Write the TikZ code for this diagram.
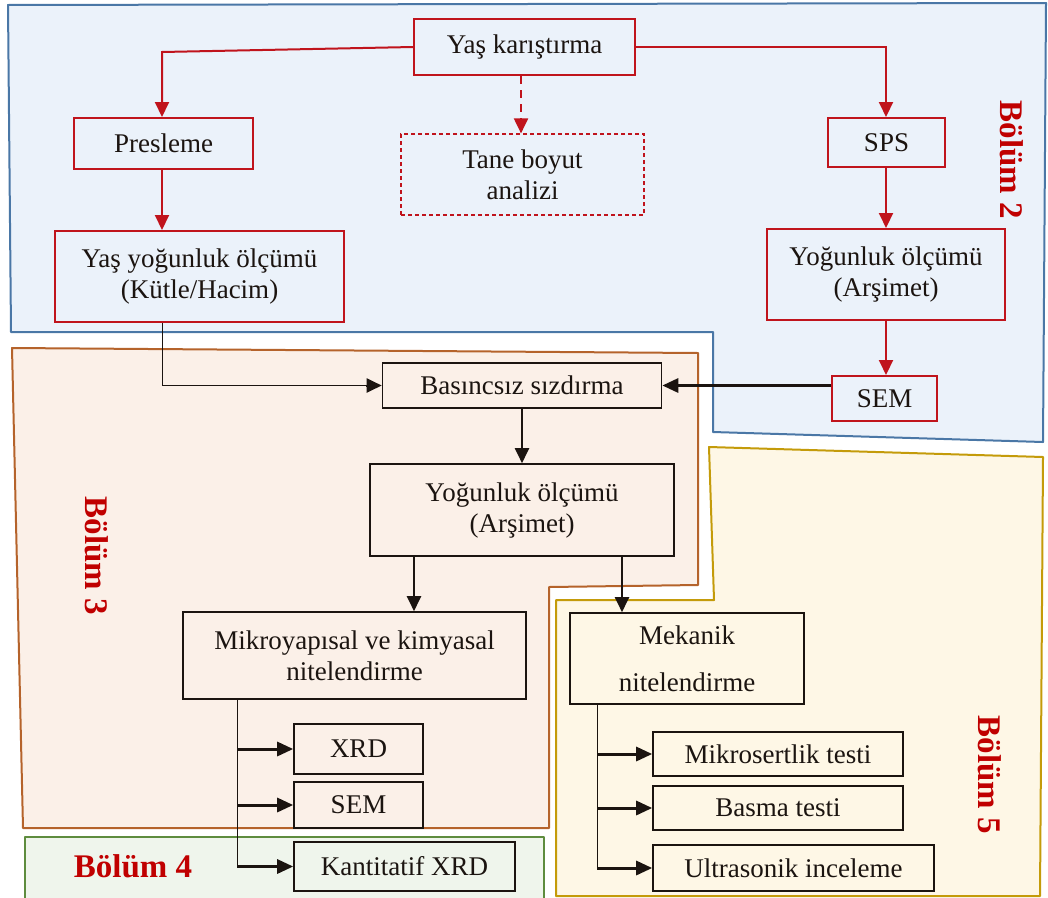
\documentclass[tikz,border=0pt]{standalone}
\usepackage{fontspec}
\setmainfont{Liberation Serif}
\usetikzlibrary{arrows.meta}
\definecolor{myred}{HTML}{C0141C}
\definecolor{lblred}{HTML}{C00000}
\definecolor{myblk}{HTML}{1B1410}
\definecolor{bluec}{HTML}{4A77A6}
\definecolor{bluef}{HTML}{EBF2FA}
\definecolor{orangec}{HTML}{B5632B}
\definecolor{orangef}{HTML}{FBF0E8}
\definecolor{yellowc}{HTML}{C49B0A}
\definecolor{yellowf}{HTML}{FEF7E6}
\definecolor{greenc}{HTML}{5E8C3E}
\definecolor{greenf}{HTML}{EFF5EC}
\newcommand\txtfont{\fontsize{27}{31}\selectfont}
\newcommand\lblfont{\fontsize{33}{36}\selectfont\bfseries}
\begin{document}
\begin{tikzpicture}[x=1pt,y=-1pt,
  rbox/.style={draw=myred,line width=2pt,inner sep=0pt,align=center,font=\txtfont,text=myblk},
  rdbox/.style={rbox,line width=1.2pt,dash pattern=on 4pt off 3pt},
  kbox/.style={draw=myblk,line width=1.6pt,inner sep=0pt,align=center,font=\txtfont,text=myblk},
  rarrow/.style={draw=myred,line width=2pt,-{Triangle[length=15pt,width=14pt]}},
  karrow/.style={draw=myblk,line width=2pt,-{Triangle[length=15pt,width=14pt]}},
  kthick/.style={draw=myblk,line width=3pt,-{Triangle[length=16pt,width=14pt]}},
  kthin/.style={draw=myblk,line width=1pt},
  region/.style={line width=2pt,line join=round},
  lbl/.style={font=\lblfont,text=lblred,inner sep=0pt}]
\useasboundingbox (0,0) rectangle (1048,897);

% regions
\draw[region,draw=bluec,fill=bluef] (8,5) -- (1046,3) -- (1043,442) -- (713,432) -- (713,332) -- (11,332) -- cycle;
\draw[region,draw=orangec,fill=orangef] (12,348) -- (698,353) -- (698,585) -- (549,587) -- (549,828) -- (23,828) -- cycle;
\draw[region,draw=yellowc,fill=yellowf] (556,600) -- (714,600) -- (709,447) -- (1043,457) -- (1040,896) -- (556,896) -- cycle;
\draw[region,draw=greenc,fill=greenf] (25,899) -- (25,837) -- (544,837) -- (544,899);

% region labels
\node[lbl,rotate=-90] (b2) at (1012,160) {Bölüm 2};
\node[lbl,rotate=-90] (b3) at (97,556) {Bölüm 3};
\node[lbl] (b4) at (133,866) {Bölüm 4};
\node[lbl,rotate=-90] (b5) at (990,775) {Bölüm 5};

% boxes - Bolum 2
\node[rbox,minimum width=221pt,minimum height=56pt] (yas) at (524.5,47) {Yaş karıştırma};
\node[rbox,minimum width=179pt,minimum height=51pt] (pres) at (163.5,143.5) {Presleme};
\node[rdbox,minimum width=243pt,minimum height=81pt] (tane) at (522.5,174.5) {Tane boyut\\analizi};
\node[rbox,minimum width=117pt,minimum height=49pt] (sps) at (886.5,142.5) {SPS};
\node[rbox,minimum width=289pt,minimum height=91pt] (yasy) at (199.5,276.5) {Yaş yoğunluk ölçümü\\(Kütle/Hacim)};
\node[rbox,minimum width=238pt,minimum height=91pt] (yog1) at (886,274.5) {Yoğunluk ölçümü\\(Arşimet)};
\node[rbox,minimum width=105pt,minimum height=45pt] (sem1) at (884.5,398.5) {SEM};

% boxes - Bolum 3
\node[kbox,minimum width=279pt,minimum height=45pt] (bas) at (522,385.5) {Basıncsız sızdırma};
\node[kbox,minimum width=304pt,minimum height=92pt] (yog2) at (522,510) {Yoğunluk ölçümü\\(Arşimet)};
\node[kbox,minimum width=343pt,minimum height=87pt] (mikro) at (354.5,655.5) {Mikroyapısal ve kimyasal\\nitelendirme};
\node[kbox,minimum width=129pt,minimum height=50pt] (xrd) at (358.5,749) {XRD};
\node[kbox,minimum width=129pt,minimum height=46pt] (sem2) at (358.5,805) {SEM};
\node[kbox,minimum width=221pt,minimum height=49pt] (kxrd) at (404.5,866.5) {Kantitatif XRD};

% boxes - Bolum 5
\node[kbox,minimum width=234pt,minimum height=91pt] (mek) at (687,658.5) {Mekanik\\[16pt]nitelendirme};
\node[kbox,minimum width=250pt,minimum height=44pt] (mikros) at (778,754) {Mikrosertlik testi};
\node[kbox,minimum width=250pt,minimum height=44pt] (basma) at (778,808) {Basma testi};
\node[kbox,minimum width=281pt,minimum height=46pt] (ultra) at (793.5,868) {Ultrasonik inceleme};

% helper coordinates
\coordinate (lp) at (162,52);
\coordinate (rp) at (886,47);
\coordinate (dx) at (521,0);
\coordinate (mx) at (414,0);
\coordinate (nx) at (622,0);
\coordinate (bx) at (237,0);
\coordinate (cx) at (597,0);

% red connectors
\draw[rarrow] (yas.west) -- (lp) -- (lp |- pres.north);
\draw[rarrow] (yas.east) -- (rp) -- (rp |- sps.north);
\draw[rarrow,dash pattern=on 8pt off 6pt] (yas.south -| dx) -- (tane.north -| dx);
\draw[rarrow] (pres.south -| lp) -- (yasy.north -| lp);
\draw[rarrow] (sps.south -| rp) -- (yog1.north -| rp);
\draw[rarrow] (yog1.south -| rp) -- (sem1.north -| rp);

% black connectors
\draw[kthin] (yasy.south -| lp) |- ([xshift=-16pt]bas.west);
\draw[karrow] ([xshift=-16pt]bas.west) -- (bas.west);
\draw[kthick] (sem1.west |- bas.east) -- (bas.east);
\draw[karrow] (bas.south) -- (yog2.north);
\draw[karrow] (yog2.south -| mx) -- (mikro.north -| mx);
\draw[karrow] (yog2.south -| nx) -- (mek.north -| nx);

\draw[kthin] (mikro.south -| bx) -- (bx |- kxrd.west);
\draw[kthick] (bx |- xrd.west) -- (xrd.west);
\draw[kthick] (bx |- sem2.west) -- (sem2.west);
\draw[kthick] (bx |- kxrd.west) -- (kxrd.west);

\draw[kthin] (mek.south -| cx) -- (cx |- ultra.west);
\draw[kthick] (cx |- mikros.west) -- (mikros.west);
\draw[kthick] (cx |- basma.west) -- (basma.west);
\draw[kthick] (cx |- ultra.west) -- (ultra.west);
\end{tikzpicture}
\end{document}
